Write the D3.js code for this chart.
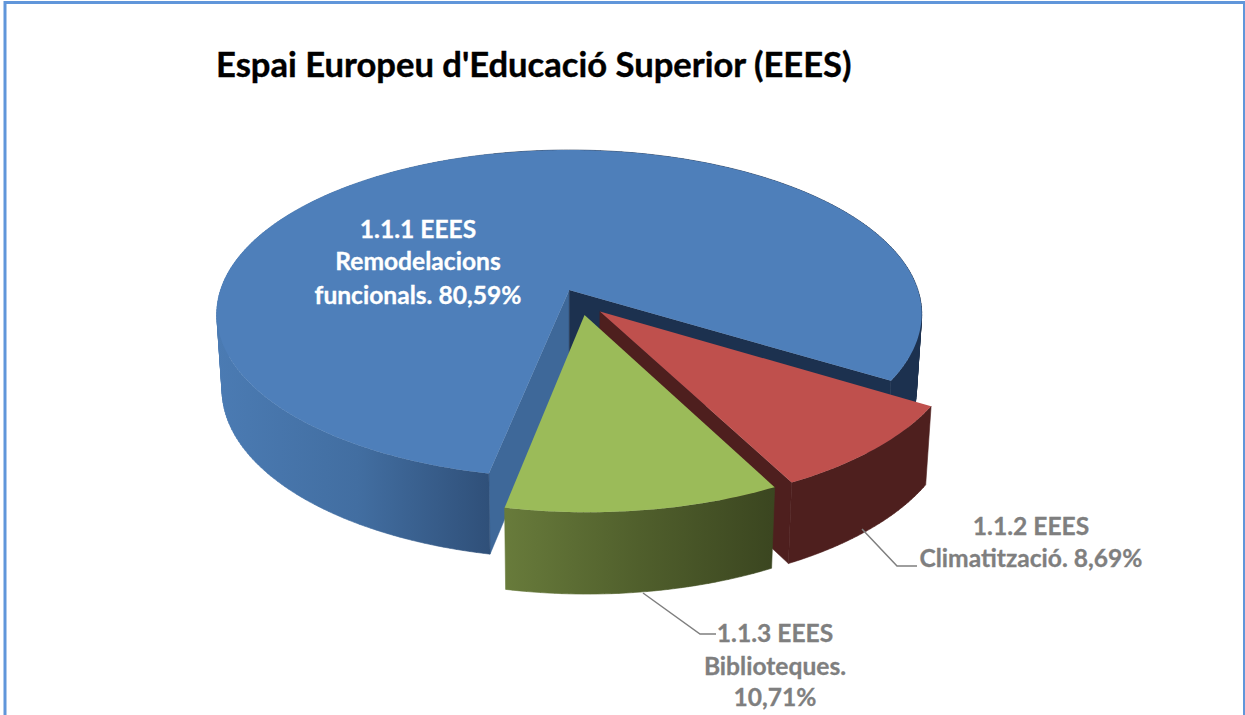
<!DOCTYPE html>
<html>
<head>
<meta charset="utf-8">
<script src="https://cdn.jsdelivr.net/npm/d3@7"></script>
<style>
html,body{margin:0;padding:0;background:#fff;overflow:hidden}
text{font-family:Lato,"Open Sans",sans-serif;font-weight:700}
</style>
</head>
<body>
<svg id="c" width="1245" height="715"></svg>
<script>
const titleText = "Espai Europeu d'Educació Superior (EEES)";
const categories = ["1.1.1 EEES Remodelacions funcionals", "1.1.2 EEES Climatització", "1.1.3 EEES Biblioteques"];
const values = [80.59, 8.69, 10.71];
const topColors = ["#4e7fba", "#bf504d", "#9bbb59"];
const radialFaceColors = ["#1c314f", "#4e1f1e", "#3e5022"];
const labelLines = [
  ["1.1.1 EEES", "Remodelacions", "funcionals. 80,59%"],
  ["1.1.2 EEES", "Climatització. 8,69%"],
  ["1.1.3 EEES", "Biblioteques.", "10,71%"]
];

const svg = d3.select("#c");
const rad = d => d * Math.PI / 180;

// Frame
svg.append("rect").attr("x", 5).attr("y", 2.5).attr("width", 1239.5).attr("height", 730)
  .attr("fill", "#fff").attr("stroke", "#6096da").attr("stroke-width", 3);

// Projection: unit-disk coordinates to the screen, with perspective
const k = 0.146;
const sx = d3.scaleLinear().domain([-1, 1]).range([569 - 348.7, 569 + 348.7]);
const sy = d3.scaleLinear().domain([-1, 1]).range([290 - 160.4, 290 + 160.4]);
const project = (u, v, z) => {
  const w = 1 - k * v;
  let x = sx(u / w), y = sy(v / w);
  if (z) { x = 570 + (x - 570) * 0.985; y = y + 80 + 0.03 * (y - 450); }
  return [x, y];
};

const pieGen = d3.pie().sort(null).startAngle(rad(191.4)).endAngle(rad(191.4 + 360));
const arcs = pieGen(values);
const explode = 0.08;
const base = [0.0326, 0.0731];
const line = d3.line();

const defs = svg.append("defs");
function grad(id, x1, x2, stops) {
  const g = defs.append("linearGradient").attr("id", id)
    .attr("gradientUnits", "userSpaceOnUse")
    .attr("x1", x1).attr("x2", x2).attr("y1", 0).attr("y2", 0);
  stops.forEach(s => g.append("stop").attr("offset", s[0]).attr("stop-color", s[1]));
}
grad("w0", 216, 925, [[0, "#4b7bb3"], [0.2, "#426ea1"], [0.39, "#2f4f78"], [0.391, "#1c314f"], [1, "#1c314f"]]);
grad("w1", 700, 930, [[0, "#4e1f1e"], [1, "#4e1f1e"]]);
grad("w2", 505, 773, [[0, "#687b3b"], [0.5, "#505f2c"], [1, "#3b4620"]]);

const slices = arcs.map((a, i) => {
  const mid = (a.startAngle + a.endAngle) / 2;
  // d3 angles run clockwise from 12 o'clock
  const cu = base[0] + explode * Math.sin(mid);
  const cv = base[1] - explode * Math.cos(mid);
  const n = Math.ceil((a.endAngle - a.startAngle) / rad(1));
  const angles = d3.range(n + 1).map(j => a.startAngle + (a.endAngle - a.startAngle) * j / n);
  const pt = (t, z) => project(cu + Math.sin(t), cv - Math.cos(t), z);
  return {a, i, cu, cv, angles, pt};
});

function drawSlice(s) {
  const {a, i, cu, cv, angles, pt} = s;
  const centerTop = project(cu, cv, 0), centerBot = project(cu, cv, 1);
  const g = svg.append("g").attr("class", "slice");
  // Radial faces
  const faceFor = (t, fill) => g.append("path")
    .attr("d", line([centerTop, pt(t, 0), pt(t, 1), centerBot]) + "Z")
    .attr("fill", fill).attr("stroke", fill).attr("stroke-width", 0.5);
  if (i === 0) {
    faceFor(a.startAngle, "#3e6899");
    faceFor(a.endAngle, radialFaceColors[0]);
  } else if (i === 1) {
    faceFor(a.endAngle, radialFaceColors[1]);
  }
  // Outer wall: quads of one winding in a single path, so no seams and no holes at the fold
  const wallPath = d3.pairs(angles).map(d => {
    const q = [pt(d[0], 0), pt(d[1], 0), pt(d[1], 1), pt(d[0], 1)];
    if (d3.polygonArea(q) < 0) q.reverse();
    return line(q) + "Z";
  }).join("");
  g.append("path").attr("d", wallPath).attr("fill", `url(#w${i})`)
    .attr("stroke", `url(#w${i})`).attr("stroke-width", 0.6);
  // Top surface
  g.append("path")
    .attr("d", line([centerTop].concat(angles.map(t => pt(t, 0)))) + "Z")
    .attr("fill", topColors[i]);
}
slices.forEach(drawSlice);

// Leader lines
const leaders = [
  [[862, 529], [897, 566], [917, 566]],
  [[643, 593], [700, 634], [716, 634]]
];
svg.selectAll("path.leader").data(leaders).enter().append("path").attr("class", "leader")
  .attr("d", d => line(d)).attr("fill", "none").attr("stroke", "#7f7f7f").attr("stroke-width", 1.5);

// Title
svg.append("text").attr("x", 216).attr("y", 77).attr("font-size", 34.6).attr("fill", "#000")
  .attr("stroke", "#000").attr("stroke-width", 0.4).text(titleText);

// Labels
const labelPos = [
  {x: 418, ys: [238, 270, 304], fill: "#fff"},
  {x: 1031, ys: [535, 567], fill: "#7f7f7f"},
  {x: 775, ys: [642, 675, 706], fill: "#7f7f7f"}
];
labelLines.forEach((lines, i) => {
  lines.forEach((t, j) => {
    svg.append("text").attr("x", labelPos[i].x).attr("y", labelPos[i].ys[j])
      .attr("text-anchor", "middle").attr("font-size", 24.6).attr("fill", labelPos[i].fill)
      .attr("stroke", labelPos[i].fill).attr("stroke-width", 0.3).text(t);
  });
});
</script>
</body>
</html>
